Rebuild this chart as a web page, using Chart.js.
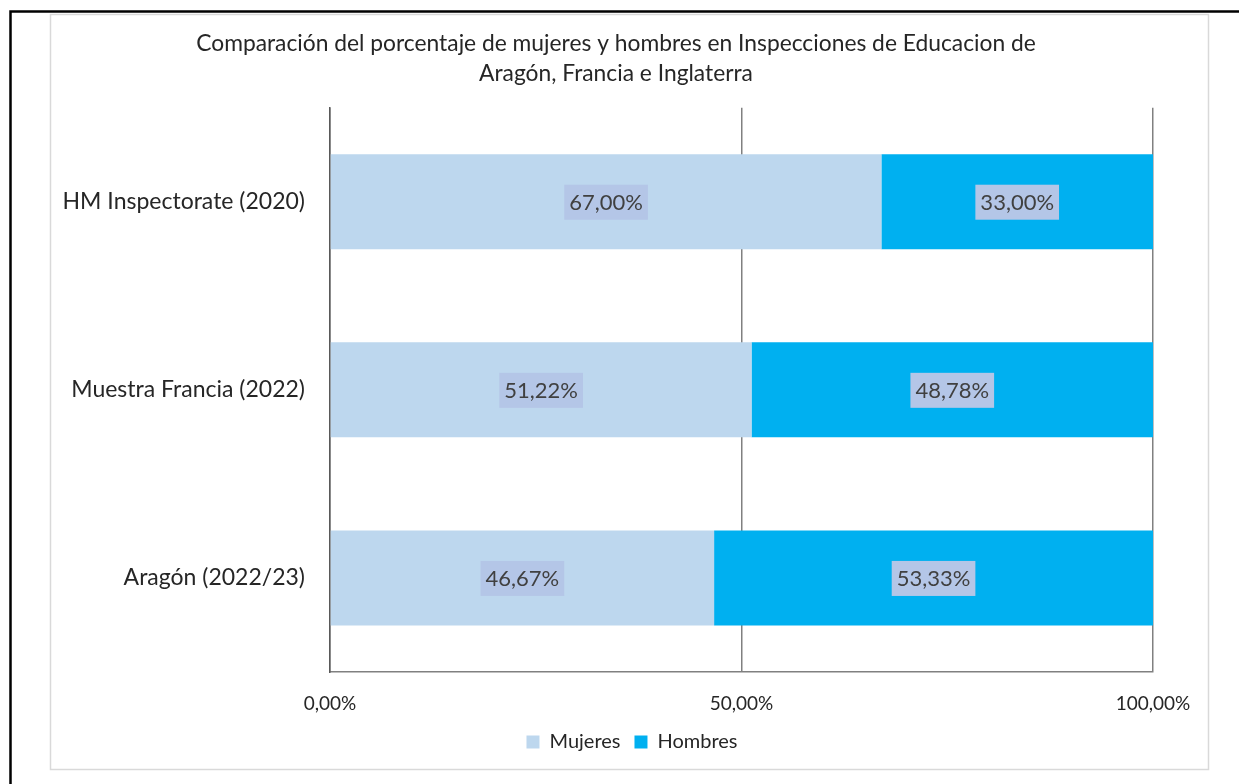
<!DOCTYPE html>
<html>
<head>
<meta charset="utf-8">
<script src="https://cdn.jsdelivr.net/npm/chart.js@4/dist/chart.umd.min.js"></script>
<style>
  html, body { margin: 0; padding: 0; background: #fff; }
  #wrap { width: 1239px; height: 784px; position: relative; }
</style>
</head>
<body>
<div id="wrap"><canvas id="genderChart" width="1239" height="784"></canvas></div>
<script>
// Chart data
const categories = ['HM Inspectorate (2020)', 'Muestra Francia (2022)', 'Aragón (2022/23)'];
const mujeres = [67.00, 51.22, 46.67];
const hombres = [33.00, 48.78, 53.33];
const xTicks = [0, 50, 100];

const FONT = 'Lato, "Open Sans", sans-serif';
const pct = v => v.toFixed(2).replace('.', ',') + '%';

// Frames around the chart (outer black border, inner light grey border)
const framePlugin = {
    id: 'frames',
    beforeDraw(chart) {
        const c = chart.ctx;
        c.save();
        c.fillStyle = '#ffffff';
        c.fillRect(0, 0, chart.width, chart.height);
        c.strokeStyle = '#000000';
        c.lineWidth = 2.5;
        c.beginPath();
        c.moveTo(10.5, chart.height + 5);
        c.lineTo(10.5, 11.5);
        c.lineTo(chart.width + 5, 11.5);
        c.stroke();
        c.strokeStyle = '#d9d9d9';
        c.lineWidth = 1.5;
        c.strokeRect(50.5, 14.5, 1158, 755);
        c.restore();
    }
};

// Legend sits a little right of the title centre in the reference
const legendShift = {
    id: 'legendShift',
    afterLayout(chart) {
        if (chart.legend) {
            chart.legend.left += 16;
            chart.legend.right += 16;
        }
    }
};

// Value labels in the middle of each bar segment
const barLabels = {
    id: 'barLabels',
    afterDatasetsDraw(chart) {
        const c = chart.ctx;
        c.save();
        c.font = '22px ' + FONT;
        c.textAlign = 'center';
        c.textBaseline = 'middle';
        chart.data.datasets.forEach((ds, i) => {
            chart.getDatasetMeta(i).data.forEach((bar, j) => {
                const x = (bar.x + bar.base) / 2;
                const y = bar.y;
                const txt = pct(ds.data[j]);
                const w = c.measureText(txt).width + 10;
                c.fillStyle = '#b4c6e7';
                c.fillRect(x - w / 2, y - 17, w, 35);
                c.fillStyle = '#404040';
                c.fillText(txt, x, y + 1);
            });
        });
        c.restore();
    }
};

const ctx = document.getElementById('genderChart').getContext('2d');

const genderChart = new Chart(ctx, {
    type: 'bar',
    data: {
        labels: categories,
        datasets: [
            {
                label: 'Mujeres',
                data: mujeres,
                backgroundColor: '#bdd7ee',
                borderWidth: 0
            },
            {
                label: 'Hombres',
                data: hombres,
                backgroundColor: '#00b0f0',
                borderWidth: 0
            }
        ]
    },
    options: {
        indexAxis: 'y',
        responsive: false,
        animation: false,
        categoryPercentage: 1,
        barPercentage: 0.505,
        layout: {
            padding: { left: 50, right: 57, top: 28, bottom: 22 }
        },
        plugins: {
            title: {
                display: true,
                text: ['Comparación del porcentaje de mujeres y hombres en Inspecciones de Educacion de',
                       'Aragón, Francia e Inglaterra'],
                color: '#262626',
                font: { family: FONT, size: 22.8, weight: 'normal', lineHeight: 1.33 },
                padding: { top: 0, bottom: 19 }
            },
            legend: {
                position: 'bottom',
                labels: {
                    color: '#262626',
                    font: { family: FONT, size: 20 },
                    boxWidth: 13,
                    boxHeight: 13,
                    padding: 14
                }
            },
            tooltip: { enabled: false }
        },
        scales: {
            x: {
                stacked: true,
                min: 0,
                max: 100,
                afterBuildTicks(scale) {
                    scale.ticks = xTicks.map(v => ({ value: v }));
                },
                afterFit(scale) {
                    // keep the plot area ending at the same place as the reference
                    scale.paddingLeft = 0;
                    scale.paddingRight = 86;
                    scale.height = 46;
                },
                ticks: {
                    color: '#262626',
                    font: { family: FONT, size: 19 },
                    padding: 20,
                    callback: v => pct(v)
                },
                grid: {
                    color: '#808080',
                    lineWidth: 1.5,
                    drawTicks: false
                },
                border: { display: true, color: '#808080', width: 1.5 }
            },
            y: {
                stacked: true,
                afterFit(scale) {
                    scale.width = 280;
                },
                ticks: {
                    color: '#262626',
                    font: { family: FONT, size: 23 },
                    padding: 25
                },
                grid: { display: false, drawTicks: false },
                border: { display: true, color: '#595959', width: 1.5 }
            }
        }
    },
    plugins: [framePlugin, legendShift, barLabels]
});
</script>
</body>
</html>
